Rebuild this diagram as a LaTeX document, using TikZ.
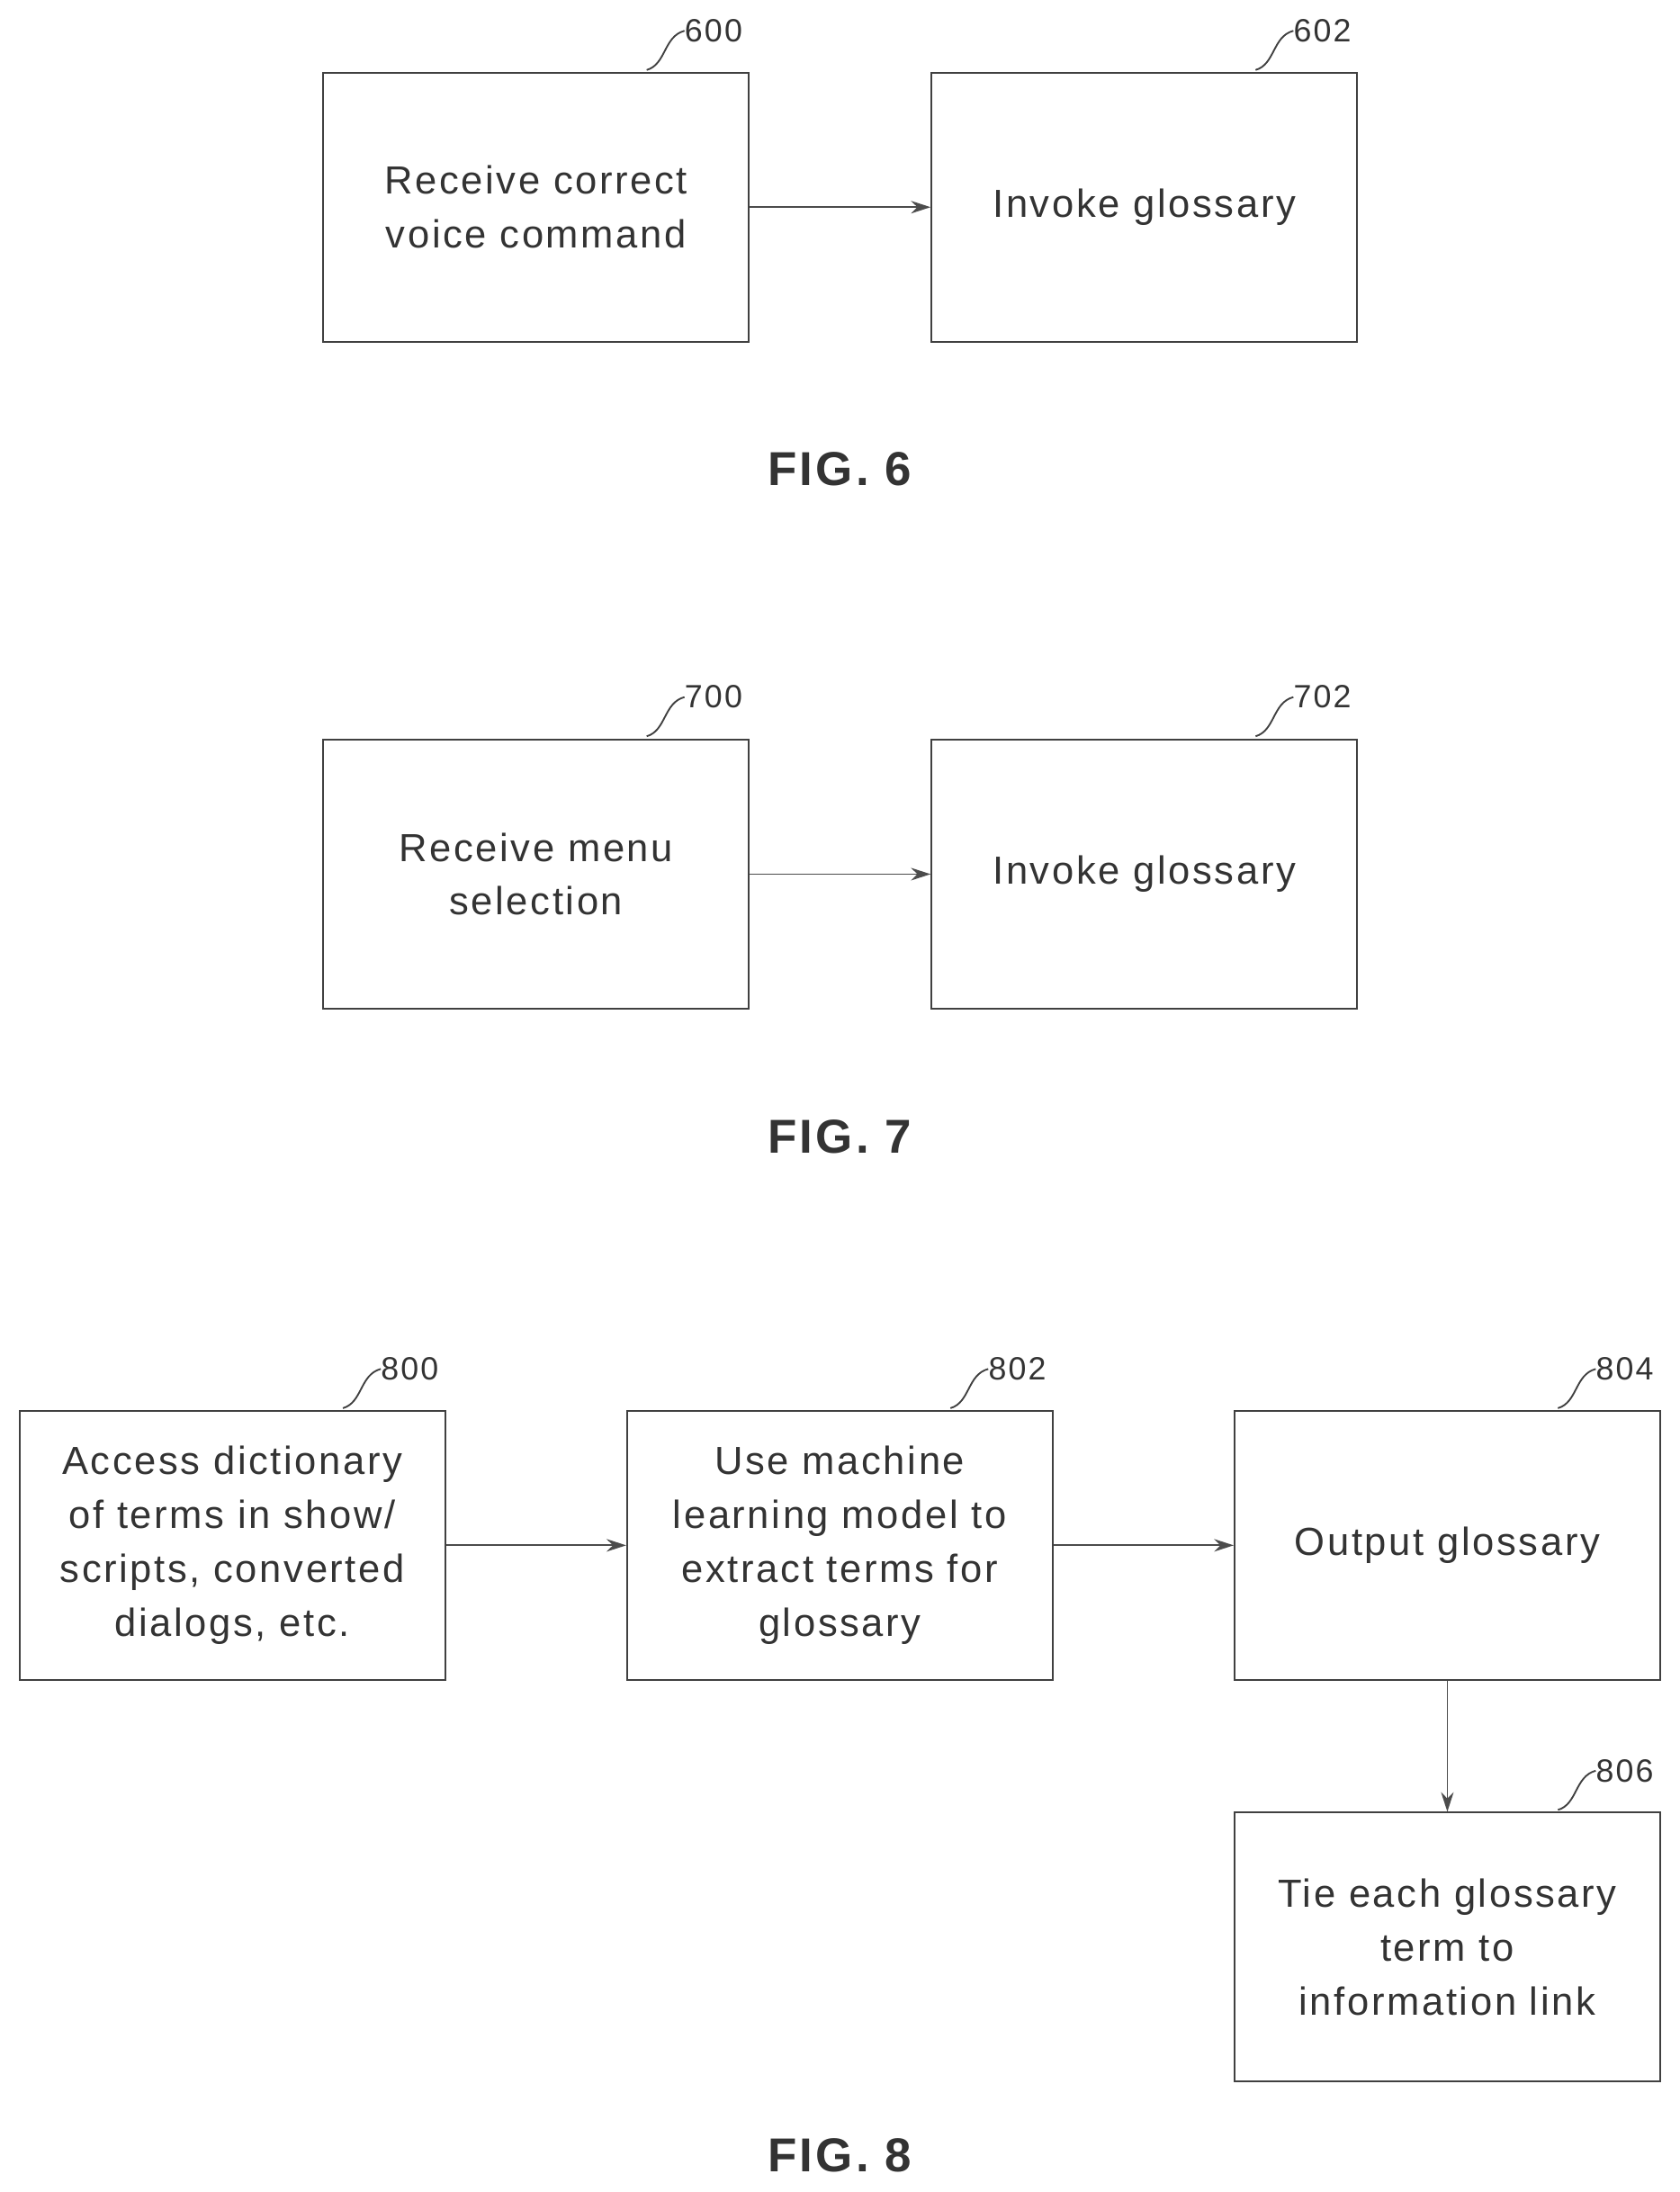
\documentclass[tikz,border=0pt]{standalone}
\usepackage{fontspec}
\setmainfont[LetterSpace=6]{Liberation Sans}
\usetikzlibrary{arrows.meta}
\begin{document}
\begin{tikzpicture}[x=1pt,y=-1pt,
 box/.style={draw=black!75,line width=1.3pt,minimum width=304pt,minimum height=192pt,align=center,font=\fontsize{28}{38.5}\selectfont,text=black!80,inner sep=0pt},
 arr/.style={draw=black!70,line width=1.2pt,-{Stealth[length=14pt,width=9pt]}},
 num/.style={font=\fontsize{23}{24}\selectfont,text=black!80,anchor=west,inner sep=0pt},
 lead/.style={draw=black!75,line width=1.2pt},
 fig/.style={font=\bfseries\fontsize{34}{36}\selectfont,text=black!80}]
\useasboundingbox (0,0) rectangle (1200,1566);
\node[box] (b600) at (383,148) {Receive correct\\voice command};
\node[box] (b602) at (817.5,148) {Invoke glossary};
\node[box] (b700) at (383,624.5) {Receive menu\\selection};
\node[box] (b702) at (817.5,624.5) {Invoke glossary};
\node[box] (b800) at (166,1104) {Access dictionary\\of terms in show/\\scripts, converted\\dialogs, etc.};
\node[box] (b802) at (600,1104) {Use machine\\learning model to\\extract terms for\\glossary};
\node[box] (b804) at (1034,1104) {Output glossary};
\node[box] (b806) at (1034,1391) {Tie each glossary\\term to\\information link};
\draw[arr] (b600) -- (b602);
\draw[arr] (b700) -- (b702);
\draw[arr] (b800) -- (b802);
\draw[arr] (b802) -- (b804);
\draw[arr] (b804) -- (b806);
\foreach \n/\x/\y in {600/462/50,602/897/50,700/462/526,702/897/526,800/245/1006,802/679/1006,804/1113/1006,806/1113/1293}{
 \node[num] (l\n) at (\x+27,\y-28) {\n};
 \draw[lead] (\x,\y) .. controls (\x+14,\y-4) and (\x+12,\y-24) .. (l\n.west);
}
\node[fig] (f6) at (600,335) {FIG. 6};
\node[fig] (f7) at (600,812) {FIG. 7};
\node[fig] (f8) at (600,1540) {FIG. 8};
\end{tikzpicture}
\end{document}
